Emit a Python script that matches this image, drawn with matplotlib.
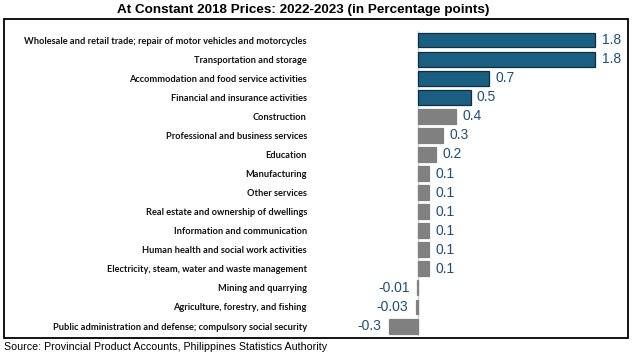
import matplotlib
matplotlib.use("Agg")
import matplotlib.pyplot as plt
from matplotlib.patches import Rectangle

categories = [
    "Wholesale and retail trade; repair of motor vehicles and motorcycles",
    "Transportation and storage",
    "Accommodation and food service activities",
    "Financial and insurance activities",
    "Construction",
    "Professional and business services",
    "Education",
    "Manufacturing",
    "Other services",
    "Real estate and ownership of dwellings",
    "Information and communication",
    "Human health and social work activities",
    "Electricity, steam, water and waste management",
    "Mining and quarrying",
    "Agriculture, forestry, and fishing",
    "Public administration and defense; compulsory social security",
]
values = [1.8, 1.8, 0.72, 0.53, 0.38, 0.25, 0.18, 0.11, 0.11, 0.11, 0.11, 0.11, 0.11, -0.01, -0.03, -0.3]
value_labels = ["1.8", "1.8", "0.7", "0.5", "0.4", "0.3", "0.2", "0.1", "0.1", "0.1", "0.1", "0.1", "0.1",
                "-0.01", "-0.03", "-0.3"]
highlighted = [True, True, True, True] + [False] * 12

W, H = 633, 357
fig = plt.figure(figsize=(W / 100, H / 100), dpi=100)

ax = fig.add_axes([318 / W, 1 - 335.6 / H, (620 - 318) / W, (335.6 - 30.5) / H])
ypos = list(range(len(categories)))
colors = ["#1A5F82" if h else "#808080" for h in highlighted]
edges = ["#0E2F42" if h else "#808080" for h in highlighted]
ax.barh(ypos, values, height=0.78, color=colors, edgecolor=edges, linewidth=0.9)
ax.set_ylim(15.5, -0.5)
ax.set_xlim(-1.022, 2.05)
ax.axvline(0, color="#D0D0D0", linewidth=1.0, zorder=0)
for s in ax.spines.values():
    s.set_visible(False)
ax.set_xticks([])
ax.set_yticks(ypos)
ax.set_yticklabels(categories, fontfamily="Lato", fontsize=6.7, fontweight="bold", color="#111111")
ax.tick_params(axis="y", length=0, pad=8)

for y, v, lab in zip(ypos, values, value_labels):
    if v >= 0:
        ax.annotate(lab, (v, y), xytext=(4.5, 0), textcoords="offset points", ha="left", va="center",
                    fontsize=10, color="#1F4E79", family="Liberation Sans")
    else:
        ax.annotate(lab, (v, y), xytext=(-5.5, 0), textcoords="offset points", ha="right", va="center",
                    fontsize=10, color="#1F4E79", family="Liberation Sans")

fig.patches.append(Rectangle((4 / W, 1 - 338 / H), 624 / W, 319 / H, transform=fig.transFigure,
                             fill=False, edgecolor="black", linewidth=1.3))
fig.text(303 / W, 1 - 10 / H, "At Constant 2018 Prices: 2022-2023 (in Percentage points)",
         ha="center", va="center", fontsize=9.7, fontweight="bold", family="Liberation Sans")
fig.text(4 / W, 1 - 347.5 / H, "Source: Provincial Product Accounts, Philippines Statistics Authority",
         ha="left", va="center", fontsize=7.7, family="Liberation Sans")

fig.savefig("out.png", dpi=100)
